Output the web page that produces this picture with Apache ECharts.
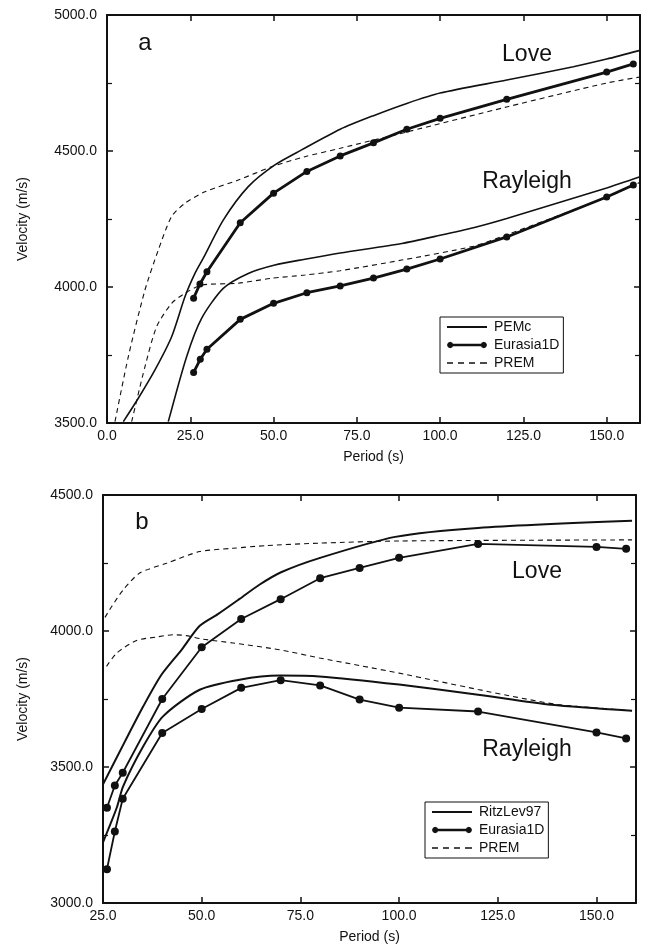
<!DOCTYPE html>
<html>
<head>
<meta charset="utf-8">
<script src="https://cdn.jsdelivr.net/npm/echarts@6/dist/echarts.min.js"></script>
<style>
html,body{margin:0;padding:0;background:#fff;}
#chart{width:650px;height:945px;}
</style>
</head>
<body>
<div id="chart"></div>
<script>
// ---------- Panel a data ----------
var aPemcLoveX = [4.9, 9.4, 14.4, 19.4, 23.4, 26.4, 28.9, 34.9, 42.4, 50.4, 58.4, 70, 80, 90, 100, 120, 140, 150, 160];
var aPemcLoveY = [3505, 3591, 3695, 3817, 3964, 4050, 4106, 4246, 4369, 4449, 4504, 4580, 4630, 4675, 4713, 4761, 4810, 4838, 4870];
var aEurLoveX = [26, 27.9, 30, 40, 50, 60, 70, 80, 90, 100, 120, 150, 158];
var aEurLoveY = [3959, 4011, 4056, 4236, 4345, 4425, 4482, 4530, 4580, 4620, 4690, 4790, 4820];
var aPremLoveX = [2.4, 6.4, 11.4, 15.4, 19.4, 23.4, 29.4, 39.4, 49.4, 59.4, 70, 90, 120, 150, 160];
var aPremLoveY = [3505, 3744, 3989, 4136, 4259, 4308, 4350, 4393, 4442, 4479, 4510, 4570, 4662, 4750, 4772];
var aPemcRayX = [18.4, 23.9, 28.4, 34.9, 42.4, 50.4, 59.4, 70, 88.5, 100, 110, 120, 150, 160];
var aPemcRayY = [3505, 3744, 3885, 3995, 4050, 4081, 4102, 4125, 4160, 4190, 4218, 4252, 4364, 4405];
var aEurRayX = [26, 28, 30, 40, 50, 60, 70, 80, 90, 100, 120, 150, 158];
var aEurRayY = [3686, 3734, 3771, 3881, 3940, 3979, 4004, 4033, 4066, 4103, 4184, 4331, 4375];
var aPremRayX = [7.4, 11.4, 14.9, 19.4, 23.4, 28.4, 39.4, 49.4, 59.4, 70, 88.5, 110, 120, 150, 160];
var aPremRayY = [3505, 3707, 3854, 3940, 3977, 4007, 4014, 4032, 4044, 4060, 4099, 4150, 4192, 4330, 4385];

// ---------- Panel b data ----------
var bRitzLoveX = [25, 30.6, 35.2, 39.8, 44.9, 49.5, 54.1, 59.6, 64.6, 70.1, 79.8, 99, 120, 159];
var bRitzLoveY = [3436, 3595, 3723, 3839, 3931, 4019, 4062, 4118, 4170, 4216, 4268, 4346, 4379, 4405];
var bEurLoveX = [26, 28, 30, 40, 50, 60, 70, 80, 90, 100, 120, 150, 157.5];
var bEurLoveY = [3350, 3432, 3479, 3750, 3940, 4044, 4117, 4194, 4232, 4269, 4320, 4309, 4302];
var bPremLoveX = [25.5, 27.2, 30.1, 34.3, 41.1, 49.5, 57.9, 66.3, 79.8, 100, 159];
var bPremLoveY = [4050, 4090, 4151, 4213, 4249, 4292, 4304, 4314, 4323, 4331, 4335];
var bRitzRayX = [25, 28.5, 30.1, 35.2, 40.2, 49.5, 59.6, 69.7, 79.8, 100, 120, 138.6, 159];
var bRitzRayY = [3223, 3351, 3429, 3576, 3686, 3784, 3821, 3836, 3833, 3803, 3766, 3729, 3707];
var bEurRayX = [26, 28, 30, 40, 50, 60, 70, 80, 90, 100, 120, 150, 157.5];
var bEurRayY = [3124, 3263, 3383, 3625, 3713, 3791, 3819, 3800, 3748, 3718, 3704, 3627, 3605];
var bPremRayX = [25.9, 28.5, 33.5, 38.6, 42.8, 46.1, 50.3, 57.9, 69.7, 79.8, 90, 100, 110, 120, 130, 140, 150, 159];
var bPremRayY = [3870, 3919, 3965, 3978, 3986, 3983, 3970, 3956, 3931, 3901, 3873, 3845, 3815, 3785, 3756, 3730, 3717, 3707];

// ---------- Axis ticks ----------
var aXTicks = {min: 0, max: 160, interval: 25};
var aYTicks = {min: 3500, max: 5000, interval: 500};
var bXTicks = {min: 25, max: 160, interval: 25};
var bYTicks = {min: 3000, max: 4500, interval: 500};

function zip(xs, ys) { return xs.map(function (x, i) { return [x, ys[i]]; }); }

var FONT = 'Liberation Sans, Arial, sans-serif';
var black = '#111';

function xAxisDef(grid, t, pos, showLabels) {
  return {
    type: 'value', gridIndex: grid, position: pos,
    min: t.min, max: t.max, interval: t.interval,
    name: showLabels ? 'Period (s)' : '', nameLocation: 'middle', nameGap: 27,
    nameTextStyle: {fontFamily: FONT, fontSize: 14, color: black},
    axisLine: {show: true, onZero: false, lineStyle: {color: black, width: 2}},
    axisTick: {show: true, inside: true, length: 6, lineStyle: {color: black, width: 1.5}},
    axisLabel: {show: showLabels, margin: 6, fontFamily: FONT, fontSize: 14, color: black,
      showMaxLabel: false, formatter: function (v) { return v.toFixed(1); }},
    splitLine: {show: false}
  };
}
function yAxisDef(grid, t, pos, showLabels, gap) {
  return {
    type: 'value', gridIndex: grid, position: pos,
    min: t.min, max: t.max, interval: t.interval,
    name: showLabels ? 'Velocity (m/s)' : '', nameLocation: 'middle', nameGap: gap,
    nameRotate: 90,
    nameTextStyle: {fontFamily: FONT, fontSize: 14, color: black},
    axisLine: {show: true, onZero: false, lineStyle: {color: black, width: 2}},
    axisTick: {show: true, inside: true, length: 6, lineStyle: {color: black, width: 1.5}},
    minorTick: {show: true, splitNumber: 2, length: 5, lineStyle: {color: black, width: 1.2}},
    axisLabel: {show: showLabels, margin: 10, fontFamily: FONT, fontSize: 14, color: black,
      formatter: function (v) { return v.toFixed(1); }},
    splitLine: {show: false}
  };
}

function model(name, xi, yi, data, w) {
  return {type: 'line', name: name, xAxisIndex: xi, yAxisIndex: yi, data: data,
    showSymbol: false, symbol: 'none', smooth: 0.25, clip: true,
    lineStyle: {color: black, width: w}, itemStyle: {color: black}};
}
function dotted(name, xi, yi, data, w, s) {
  return {type: 'line', name: name, xAxisIndex: xi, yAxisIndex: yi, data: data,
    symbol: 'circle', symbolSize: s, showSymbol: true, clip: true,
    lineStyle: {color: black, width: w}, itemStyle: {color: black}};
}
function prem(name, xi, yi, data) {
  return {type: 'line', name: name, xAxisIndex: xi, yAxisIndex: yi, data: data,
    showSymbol: false, symbol: 'none', smooth: 0.25, clip: true,
    lineStyle: {color: black, width: 1.1, type: [5, 4]}, itemStyle: {color: black}};
}

function lbl(text, x, y, size) {
  return {type: 'text', x: x, y: y,
    style: {text: text, font: size + 'px ' + FONT, fill: black, align: 'center', verticalAlign: 'middle'}};
}

// legend icons (keep aspect => drawn as thin line / dashes / line with end dots)
var ICON_SOLID = 'path://M0,0L40,0L40,2L0,2Z';
var ICON_DOTS = 'path://M3,2L37,2L37,4.5L3,4.5Z ' +
  'M0,3.25L0.95,1.05L3.2,0L5.45,1.05L6.4,3.25L5.45,5.45L3.2,6.5L0.95,5.45Z ' +
  'M33.6,3.25L34.55,1.05L36.8,0L39.05,1.05L40,3.25L39.05,5.45L36.8,6.5L34.55,5.45Z';
var ICON_DASH = 'path://M0,0h6v1.4h-6Z M11,0h6v1.4h-6Z M22,0h6v1.4h-6Z M33,0h7v1.4h-7Z';

var legendCommon = {
  orient: 'vertical', itemWidth: 40, itemHeight: 14, itemGap: 4,
  borderColor: black, borderWidth: 1, padding: [3, 4, 3, 7], backgroundColor: '#fff',
  textStyle: {fontFamily: FONT, fontSize: 14, color: black, padding: [0, 0, 0, 2]},
  formatter: function (n) { return n.trim(); },
  selectedMode: false
};

var option = {
  animation: false,
  backgroundColor: '#fff',
  grid: [
    {left: 107, top: 15, width: 533, height: 408},
    {left: 103, top: 495, width: 533, height: 408}
  ],
  xAxis: [
    xAxisDef(0, aXTicks, 'bottom', true),
    xAxisDef(0, aXTicks, 'top', false),
    xAxisDef(1, bXTicks, 'bottom', true),
    xAxisDef(1, bXTicks, 'top', false)
  ],
  yAxis: [
    yAxisDef(0, aYTicks, 'left', true, 77),
    yAxisDef(0, aYTicks, 'right', false, 0),
    yAxisDef(1, bYTicks, 'left', true, 73),
    yAxisDef(1, bYTicks, 'right', false, 0)
  ],
  legend: [
    Object.assign({left: 440, top: 317, data: [
      {name: 'PEMc', icon: ICON_SOLID},
      {name: 'Eurasia1D', icon: ICON_DOTS},
      {name: 'PREM', icon: ICON_DASH}]}, legendCommon),
    Object.assign({left: 425, top: 802, data: [
      {name: 'RitzLev97', icon: ICON_SOLID},
      {name: 'Eurasia1D ', icon: ICON_DOTS},
      {name: 'PREM ', icon: ICON_DASH}]}, legendCommon)
  ],
  series: [
    model('PEMc', 0, 0, zip(aPemcLoveX, aPemcLoveY), 1.6),
    model('PEMc', 0, 0, zip(aPemcRayX, aPemcRayY), 1.6),
    dotted('Eurasia1D', 0, 0, zip(aEurLoveX, aEurLoveY), 2.8, 7),
    dotted('Eurasia1D', 0, 0, zip(aEurRayX, aEurRayY), 2.8, 7),
    prem('PREM', 0, 0, zip(aPremLoveX, aPremLoveY)),
    prem('PREM', 0, 0, zip(aPremRayX, aPremRayY)),
    model('RitzLev97', 2, 2, zip(bRitzLoveX, bRitzLoveY), 2),
    model('RitzLev97', 2, 2, zip(bRitzRayX, bRitzRayY), 2),
    dotted('Eurasia1D ', 2, 2, zip(bEurLoveX, bEurLoveY), 1.8, 8),
    dotted('Eurasia1D ', 2, 2, zip(bEurRayX, bEurRayY), 1.8, 8),
    prem('PREM ', 2, 2, zip(bPremLoveX, bPremLoveY)),
    prem('PREM ', 2, 2, zip(bPremRayX, bPremRayY))
  ],
  graphic: [
    lbl('a', 145, 43, 24),
    lbl('Love', 527, 55, 23),
    lbl('Rayleigh', 527, 182, 23),
    lbl('b', 142, 522, 24),
    lbl('Love', 537, 572, 23),
    lbl('Rayleigh', 527, 750, 23)
  ]
};

var chart = echarts.init(document.getElementById('chart'), null, {renderer: 'canvas'});
chart.setOption(option);
</script>
</body>
</html>
